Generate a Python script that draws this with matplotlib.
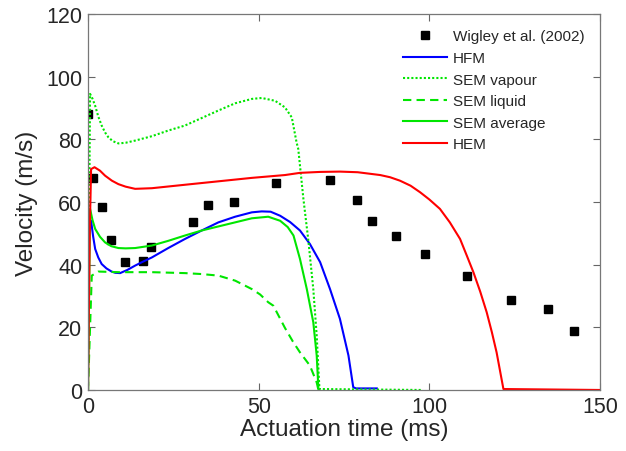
import matplotlib.pyplot as plt

# Wigley et al. (2002) measured points
exp_t = [0, 1.5, 4.1, 6.7, 10.8, 16.1, 18.5, 30.8, 35.2, 42.8, 55.1,
         71.0, 78.9, 83.3, 90.3, 98.7, 111.1, 123.9, 134.7, 142.5]
exp_v = [88, 67.7, 58.4, 47.9, 40.9, 41.2, 45.6, 53.6, 59.0, 60.0, 66.1,
         66.9, 60.6, 54.0, 49.3, 43.4, 36.5, 28.6, 25.8, 18.8]

# HFM
hfm_t = [0.9, 1.5, 2.1, 3, 4, 5.4, 6.9, 8, 9.4, 11.5, 13.8, 16, 18.7, 23.5, 28.4, 33.3,
         38.2, 43.1, 48, 50.9, 53.5, 56.3, 59.2, 62.1, 65, 68, 70.9, 73.8,
         76.3, 77.7, 78.5, 84.6]
hfm_v = [54, 49, 45, 42.3, 40.2, 38.8, 37.8, 37.4, 37.3, 38.3, 39.7, 40.9, 42.3, 45.3,
         48.2, 50.9, 53.5, 55.3, 56.7, 57.0, 56.9, 55.6, 53.6, 50.9, 46.6, 40.8,
         32.2, 22.7, 11, 0.9, 0.5, 0.5]

# SEM vapour
sv_t = [0, 0.3, 0.6, 1.3, 2.1, 3, 4, 5, 6, 7.3, 8.9, 11, 13.8, 18.7, 23.5, 28.4, 33.3,
        38.2, 43.1, 48, 50.9, 54.8, 57.7, 59.7, 61.1, 61.6, 63.1, 64.5, 66,
        67, 67.8, 98]
sv_v = [0, 50, 94.5, 93, 90.7, 87.3, 84.4, 82.2, 80.6, 79.4, 78.7, 78.9, 79.6, 81,
        82.8, 84.4, 86.8, 89.2, 91.5, 92.9, 93.2, 92.3, 90.2, 87, 79, 76.9, 61,
        48.2, 32.2, 17.3, 0.3, 0]

# SEM liquid
sl_t = [0, 0.6, 1.1, 3, 8.9, 18.7, 28.4, 33.3, 38.2, 43.1, 48, 50.4, 52.8,
        54.3, 57.7, 60, 62.1, 65, 67, 67.5]
sl_v = [0, 20, 36.5, 37.8, 37.6, 37.6, 37.3, 37.0, 36.5, 34.9, 32.2, 30.5, 28,
        26.9, 19.8, 15.5, 12, 7.8, 2.4, 0]

# SEM average
sa_t = [0, 0.3, 0.6, 1.3, 2.1, 3.5, 5, 6.8, 8.9, 11, 13.8, 18.7, 23.5, 28.4, 33.3,
        38.2, 43.1, 48, 52.8, 56.3, 58.5, 60.2, 62.1, 64.1, 66, 67, 67.5]
sa_v = [0, 30, 57.8, 54.3, 51.4, 48.9, 47.1, 45.9, 45.3, 45.2, 45.3, 46.1, 47.6,
        49.3, 50.9, 52.2, 53.5, 54.8, 55.3, 54, 52, 49.3, 41.8, 32.2, 21.6, 11, 0.3]

# HEM
hem_t = [0, 0.5, 0.9, 1.9, 3.5, 5, 7, 8.9, 11, 13.8, 18.7, 28.4, 38.2, 48, 57.7,
         62.1, 68, 73.8, 79, 85.6, 88.5, 91.4, 94.5, 97.3, 100, 103.1, 106, 109,
         111, 112.9, 114.9, 116.8, 118.3, 119.7, 121.7, 150]
hem_v = [0, 50, 70.5, 71.1, 70, 68.4, 66.8, 65.7, 64.9, 64.2, 64.4, 65.5, 66.6,
         67.7, 68.6, 69.3, 69.6, 69.7, 69.5, 68.6, 67.9, 66.8, 65.2, 63.1, 60.8,
         57.8, 53.5, 48.2, 42.8, 37.6, 31.4, 24.8, 18.5, 12.0, 0.3, 0]

plt.rcParams['font.family'] = ['Liberation Sans', 'DejaVu Sans']
txt = '#262626'

fig = plt.figure(figsize=(6.26, 4.52), dpi=100)
ax = fig.add_axes([0.1406, 0.135, 0.8179, 0.8318])

green = '#00e600'
ax.plot(exp_t, exp_v, 's', color='black', ms=5.5, label='Wigley et al. (2002)')
ax.plot(hfm_t, hfm_v, color='#0000ff', lw=1.5, label='HFM')
ax.plot(sv_t, sv_v, color=green, lw=1.5, linestyle=(0, (1, 1)), label='SEM vapour')
ax.plot(sl_t, sl_v, color=green, lw=1.5, linestyle=(0, (4, 2.5)), label='SEM liquid')
ax.plot(sa_t, sa_v, color=green, lw=1.5, label='SEM average')
ax.plot(hem_t, hem_v, color='#ff0000', lw=1.5, label='HEM')

ax.set_xlim(0, 150)
ax.set_ylim(0, 120)
ax.set_xticks([0, 50, 100, 150])
ax.set_yticks(range(0, 121, 20))
ax.tick_params(direction='in', top=True, right=True, length=5, width=0.8,
               color='#666666', labelsize=15.5, labelcolor=txt, pad=4)
for s in ax.spines.values():
    s.set_color('#777777')
    s.set_linewidth(0.9)

ax.set_xlabel('Actuation time (ms)', fontsize=17.5, color=txt, labelpad=1)
ax.set_ylabel('Velocity (m/s)', fontsize=17.5, color=txt, labelpad=6)

ax.legend(loc='upper right', frameon=False, fontsize=11, handlelength=2.9,
          handletextpad=0.4, labelspacing=0.5, borderaxespad=0.6, numpoints=1,
          labelcolor=txt)

fig.savefig('out.png', dpi=100)
